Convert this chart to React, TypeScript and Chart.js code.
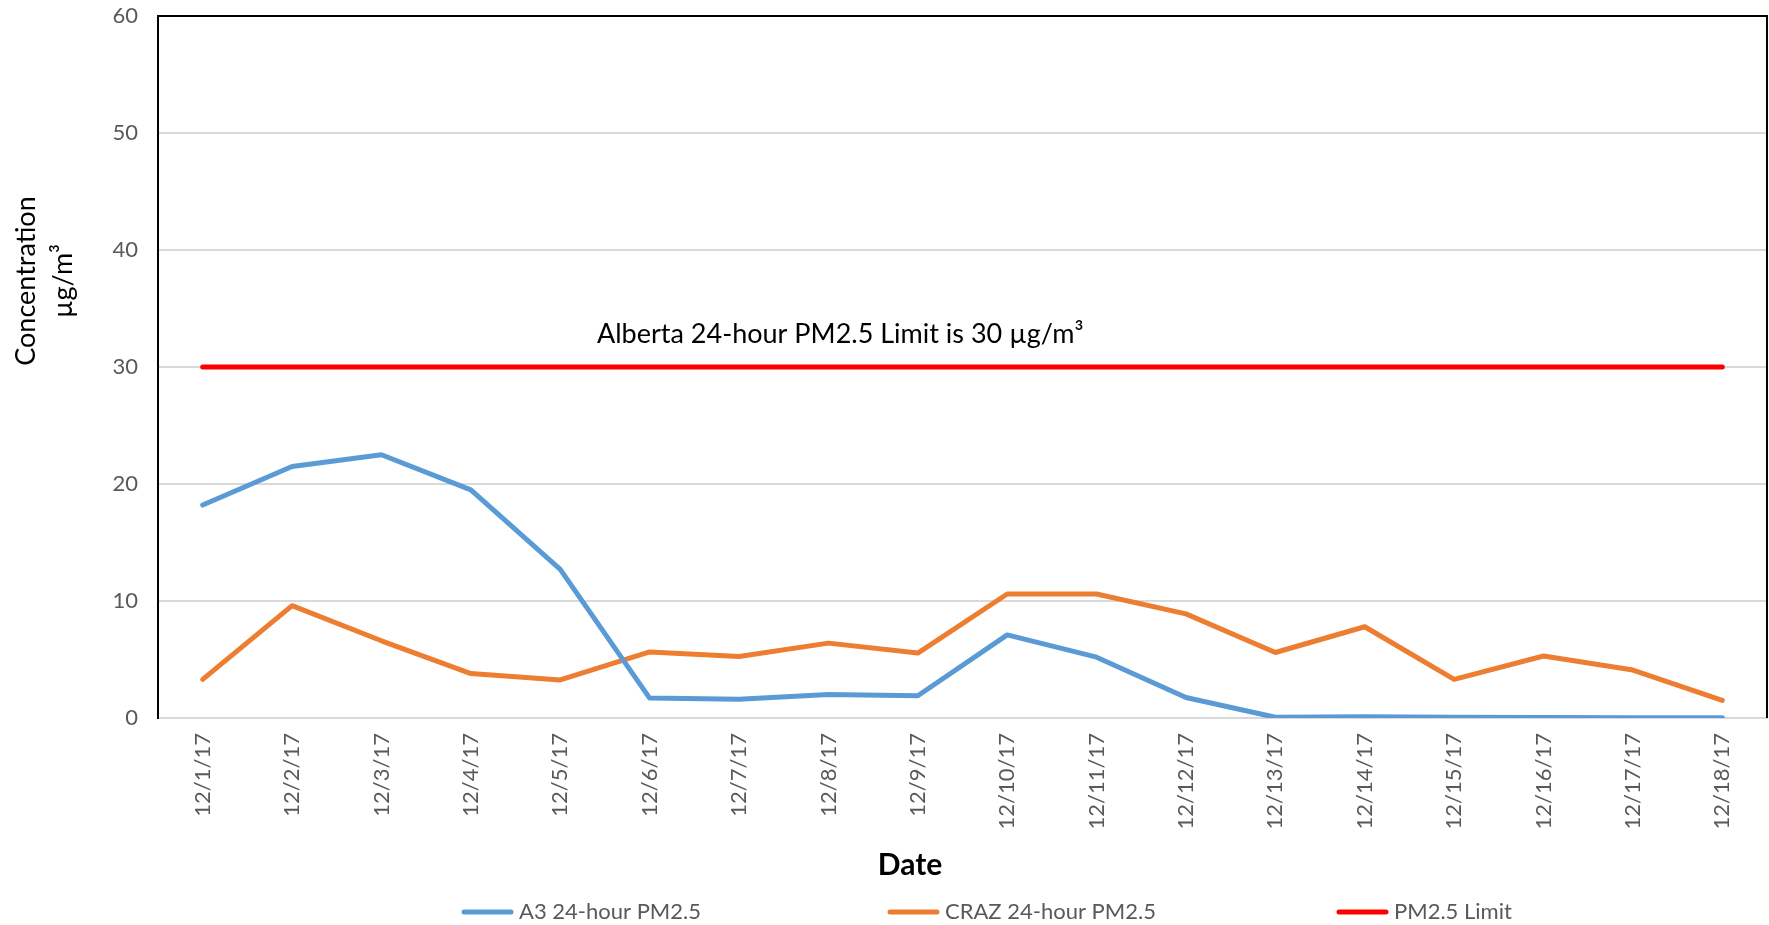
import React, { useEffect, useRef } from 'react';
import { Chart, registerables } from 'chart.js';

Chart.register(...registerables);

const dates = [
  '12/1/17', '12/2/17', '12/3/17', '12/4/17', '12/5/17', '12/6/17',
  '12/7/17', '12/8/17', '12/9/17', '12/10/17', '12/11/17', '12/12/17',
  '12/13/17', '12/14/17', '12/15/17', '12/16/17', '12/17/17', '12/18/17',
];
const a3Values = [18.2, 21.5, 22.5, 19.5, 12.7, 1.7, 1.6, 2.0, 1.9, 7.1, 5.2, 1.75, 0.06, 0.1, 0.06, 0.04, 0.02, 0.02];
const crazValues = [3.3, 9.6, 6.6, 3.8, 3.25, 5.65, 5.25, 6.4, 5.55, 10.6, 10.6, 8.9, 5.6, 7.8, 3.3, 5.3, 4.1, 1.5];
const limitValues = [30, 30, 30, 30, 30, 30, 30, 30, 30, 30, 30, 30, 30, 30, 30, 30, 30, 30];

const seriesNames = ['A3 24-hour PM2.5', 'CRAZ 24-hour PM2.5', 'PM2.5 Limit'];
const seriesColors = ['#5B9BD5', '#ED7D31', '#FF0000'];

const yMin = 0;
const yMax = 60;
const yStep = 10;
const yTitleLines = ['Concentration', 'µg/m³'];
const xTitle = 'Date';
const limitNote = 'Alberta 24-hour PM2.5 Limit is 30 µg/m³';

const FONT = 'Lato, "Open Sans", sans-serif';
const W = 1769;
const H = 925;

const decorPlugin = {
  id: 'decor',
  beforeDatasetsDraw(chart: any) {
    const { ctx, chartArea: a } = chart;
    ctx.save();
    ctx.strokeStyle = '#000000';
    ctx.lineWidth = 2;
    ctx.beginPath();
    ctx.moveTo(a.left - 1, a.top);
    ctx.lineTo(a.right, a.top);
    ctx.lineTo(a.right, a.bottom);
    ctx.stroke();
    ctx.restore();
  },
  afterDraw(chart: any) {
    const { ctx, chartArea: a, scales } = chart;
    ctx.save();
    // limit annotation
    ctx.fillStyle = '#000000';
    ctx.font = `27px ${FONT}`;
    ctx.textAlign = 'center';
    ctx.textBaseline = 'middle';
    const ny = scales.y.getPixelForValue(30) - 33;
    ctx.fillText(limitNote, a.left + 0.424 * (a.right - a.left), ny);

    // y-axis title (two lines, rotated)
    ctx.font = `27px ${FONT}`;
    ctx.fillStyle = '#000000';
    const cy = 281;
    const xs = [26, 63];
    yTitleLines.forEach((t, i) => {
      ctx.save();
      ctx.translate(xs[i], cy);
      ctx.rotate(-Math.PI / 2);
      ctx.textAlign = 'center';
      ctx.textBaseline = 'middle';
      ctx.fillText(t, 0, 0);
      ctx.restore();
    });

    // x-axis title
    ctx.font = `bold 30px ${FONT}`;
    ctx.textAlign = 'center';
    ctx.textBaseline = 'middle';
    ctx.fillText(xTitle, 910, 865);

    // legend
    const starts = [462, 888, 1337];
    const ly = 912;
    chart.data.datasets.forEach((ds: any, i: number) => {
      const x0 = starts[i];
      ctx.strokeStyle = ds.borderColor;
      ctx.lineWidth = 5;
      ctx.lineCap = 'round';
      ctx.beginPath();
      ctx.moveTo(x0 + 2, ly);
      ctx.lineTo(x0 + 49, ly);
      ctx.stroke();
      ctx.fillStyle = '#595959';
      ctx.font = `22px ${FONT}`;
      ctx.textAlign = 'left';
      ctx.textBaseline = 'middle';
      ctx.fillText(ds.label, x0 + 57, ly);
    });
    ctx.restore();
  },
};

export default function App() {
  const ref = useRef<HTMLCanvasElement | null>(null);

  useEffect(() => {
    document.body.style.margin = '0';
    const canvas = ref.current;
    if (!canvas) return;
    const values = [a3Values, crazValues, limitValues];
    const chart = new Chart(canvas, {
      type: 'line',
      data: {
        labels: dates,
        datasets: values.map((v, i) => ({
          label: seriesNames[i],
          data: v,
          borderColor: seriesColors[i],
          backgroundColor: seriesColors[i],
          borderWidth: 5,
          pointRadius: 0,
          pointHoverRadius: 0,
          tension: 0,
          fill: false,
          borderCapStyle: 'round',
          borderJoinStyle: 'round',
        })),
      },
      options: {
        responsive: false,
        devicePixelRatio: 1,
        animation: false,
        layout: { padding: { top: 16, right: 2, left: 0, bottom: 0 } },
        plugins: {
          legend: { display: false },
          tooltip: { enabled: false },
          title: { display: false },
        },
        scales: {
          x: {
            type: 'category',
            offset: true,
            afterFit: (s: any) => { s.height = H - 718; s.paddingLeft = 0; s.paddingRight = 0; },
            grid: { display: false, drawTicks: false },
            border: { display: true, color: '#D9D9D9', width: 2 },
            ticks: {
              autoSkip: false,
              minRotation: 90,
              maxRotation: 90,
              padding: 15,
              color: '#595959',
              font: { family: FONT, size: 22 },
            },
          },
          y: {
            min: yMin,
            max: yMax,
            afterFit: (s: any) => { s.width = 158; s.paddingTop = 0; s.paddingBottom = 0; },
            grid: { color: '#D9D9D9', lineWidth: 2, drawTicks: false },
            border: { display: true, color: '#000000', width: 2 },
            ticks: {
              stepSize: yStep,
              padding: 20,
              color: '#595959',
              font: { family: FONT, size: 22 },
            },
          },
        },
      },
      plugins: [decorPlugin],
    } as any);
    return () => chart.destroy();
  }, []);

  return (
    <div style={{ width: W, height: H }}>
      <canvas ref={ref} width={W} height={H} style={{ display: 'block' }} />
    </div>
  );
}
